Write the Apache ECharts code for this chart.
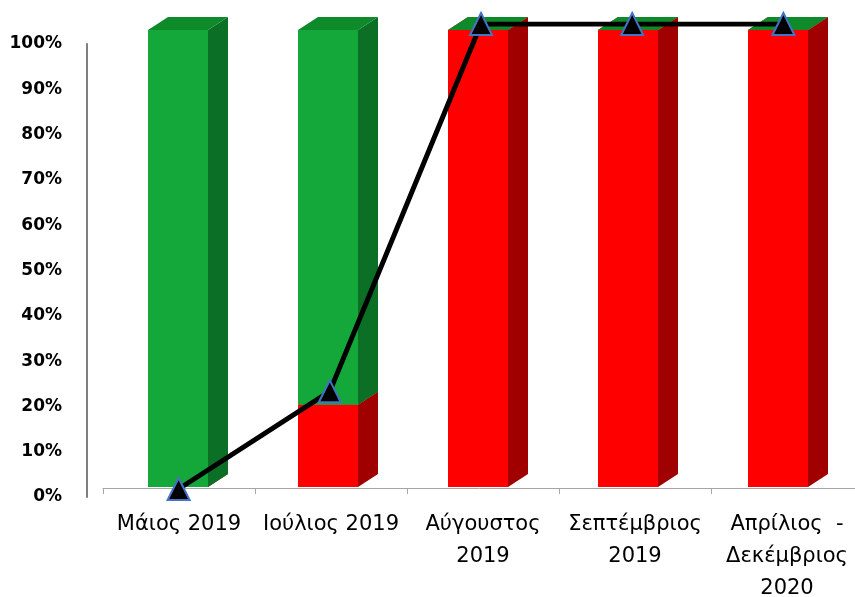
<!DOCTYPE html>
<html>
<head>
<meta charset="utf-8">
<script src="https://cdn.jsdelivr.net/npm/echarts@6.0.0/dist/echarts.min.js"></script>
<style>
  html, body { margin: 0; padding: 0; background: #fff; }
  #chart-container { width: 855px; height: 597px; }
</style>
</head>
<body>
<div id="chart-container"></div>
<script>
var categories = ['Μάιος 2019', 'Ιούλιος 2019', 'Αύγουστος\n2019', 'Σεπτέμβριος\n2019', 'Απρίλιος  -\nΔεκέμβριος\n2020'];
var redValues = [0, 18, 100, 100, 100];
var greenValues = [100, 82, 0, 0, 0];
var lineValues = [0, 21, 100, 100, 100];
var tickLabels = ['0%', '10%', '20%', '30%', '40%', '50%', '60%', '70%', '80%', '90%', '100%'];

var dom = document.getElementById('chart-container');
var myChart = echarts.init(dom, null, { renderer: 'canvas' });

// each item: [category index, bottom, top]
var redData = [];
var greenData = [];
for (var i = 0; i < categories.length; i++) {
  redData.push([i, 0, redValues[i]]);
  greenData.push([i, redValues[i], redValues[i] + greenValues[i]]);
}

// fake 3d box: front, right side, top
function makeBox(front, side, top) {
  return function (params, api) {
    var cat = api.value(0);
    var lo = api.value(1);
    var hi = api.value(2);
    var pLo = api.coord([cat, lo]);
    var pHi = api.coord([cat, hi]);
    var w = 60, dx = 20, dy = -13;
    var x0 = pLo[0] - 30, x1 = x0 + w;
    var yb = pLo[1], yt = pHi[1];
    var children = [];
    if (yb - yt > 0.5) {
      children.push({
        type: 'polygon',
        shape: { points: [[x1, yb], [x1 + dx, yb + dy], [x1 + dx, yt + dy], [x1, yt]] },
        style: { fill: side }
      });
      children.push({
        type: 'rect',
        shape: { x: x0, y: yt, width: w, height: yb - yt },
        style: { fill: front }
      });
    }
    if (top) {
      children.push({
        type: 'polygon',
        shape: { points: [[x0, yt], [x0 + dx, yt + dy], [x1 + dx, yt + dy], [x1, yt]] },
        style: { fill: top }
      });
    }
    return { type: 'group', children: children };
  };
}

var option = {
  animation: false,
  grid: [
    { left: 87, width: 760, top: 44, bottom: 100, outerBoundsMode: 'none' },   // y labels
    { left: 103, width: 750, top: 30, bottom: 110, outerBoundsMode: 'none' },  // bars
    { left: 103, width: 756, top: 24, bottom: 108, outerBoundsMode: 'none' },  // line
    { left: 103, width: 760, top: 30, bottom: 109, outerBoundsMode: 'none' }   // visible x axis
  ],
  xAxis: [
    { gridIndex: 0, type: 'category', data: categories, show: false },
    { gridIndex: 1, type: 'category', data: categories, show: false },
    { gridIndex: 2, type: 'category', data: categories, show: false },
    {
      gridIndex: 3,
      type: 'category',
      data: categories,
      axisLine: { lineStyle: { color: '#a6a6a6', width: 1 } },
      axisTick: { show: true, length: 6, lineStyle: { color: '#a6a6a6' } },
      axisLabel: {
        interval: 0,
        margin: 21,
        color: '#000',
        fontFamily: 'DejaVu Sans',
        fontSize: 21,
        lineHeight: 32
      }
    }
  ],
  yAxis: [
    {
      gridIndex: 0,
      type: 'value',
      min: 0,
      max: 100,
      interval: 10,
      axisLine: { show: true, lineStyle: { color: '#7f7f7f', width: 2 } },
      axisTick: { show: false },
      splitLine: { show: false },
      axisLabel: {
        margin: 25,
        color: '#000',
        fontFamily: 'DejaVu Sans',
        fontWeight: 'bold',
        fontSize: 17,
        formatter: function (v) { return tickLabels[Math.round(v / 10)]; }
      }
    },
    { gridIndex: 1, type: 'value', min: 0, max: 100, show: false, splitLine: { show: false } },
    { gridIndex: 2, type: 'value', min: 0, max: 100, show: false, splitLine: { show: false } },
    { gridIndex: 3, type: 'value', min: 0, max: 100, show: false, splitLine: { show: false } }
  ],
  series: [
    {
      name: 'red',
      type: 'custom',
      xAxisIndex: 1,
      yAxisIndex: 1,
      renderItem: makeBox('#ff0000', '#a00000', '#c00000'),
      encode: { x: 0, y: [1, 2] },
      data: redData
    },
    {
      name: 'green',
      type: 'custom',
      xAxisIndex: 1,
      yAxisIndex: 1,
      renderItem: makeBox('#14a83a', '#0b6f25', '#0f8a2b'),
      encode: { x: 0, y: [1, 2] },
      data: greenData
    },
    {
      name: 'line',
      type: 'line',
      xAxisIndex: 2,
      yAxisIndex: 2,
      data: lineValues,
      symbol: 'triangle',
      symbolSize: 22,
      lineStyle: { color: '#000', width: 5 },
      itemStyle: { color: '#000', borderColor: '#4472c4', borderWidth: 2 },
      z: 5
    }
  ]
};

myChart.setOption(option);
window.addEventListener('resize', myChart.resize);
</script>
</body>
</html>
